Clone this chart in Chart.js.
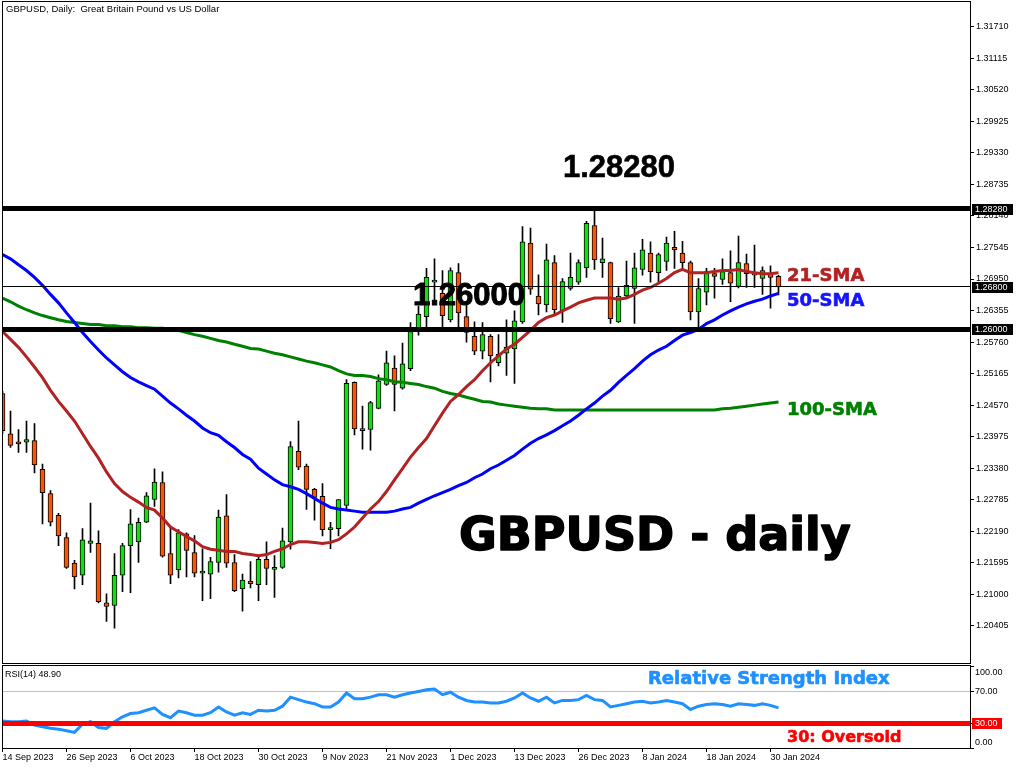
<!DOCTYPE html>
<html><head><meta charset="utf-8">
<script src="https://cdn.jsdelivr.net/npm/chart.js@4.4.0/dist/chart.umd.min.js"></script>
<style>
html,body{margin:0;padding:0;background:#fff;}
#wrap{position:relative;width:1024px;height:768px;overflow:hidden;background:#fff;}
#c1{position:absolute;left:0;top:0;}
#c2{position:absolute;left:0;top:664px;}
</style></head>
<body><div id="wrap"><canvas id="c1" width="1024" height="664"></canvas><canvas id="c2" width="1024" height="104"></canvas></div>
<script>
// ---------------- DATA ----------------
const opens  = [1.2479,1.2403,1.2385,1.2387,1.2390,1.2336,1.2290,1.2249,1.2207,1.2159,
1.2136,1.2196,1.2196,1.2084,1.2079,1.2136,1.2192,1.2199,1.2236,1.2279,
1.2311,1.2177,1.2146,1.2214,1.2179,1.2140,1.2138,1.2160,1.2248,1.2160,
1.2110,1.2125,1.2118,1.2166,1.2147,1.2151,1.2199,1.2370,1.2342,1.2298,
1.2285,1.2222,1.2224,1.2268,1.2500,1.2409,1.2411,1.2451,1.2496,1.2527,
1.2489,1.2526,1.2603,1.2624,1.2689,1.2668,1.2618,1.2707,1.2624,1.2587,
1.2559,1.2587,1.2537,1.2555,1.2563,1.2614,1.2763,1.2663,1.2646,1.2726,
1.2635,1.2677,1.2689,1.2716,1.2796,1.2726,1.2726,1.2614,1.2663,1.2677,
1.2713,1.2744,1.2707,1.2728,1.2755,1.2744,1.2726,1.2633,1.2670,1.2705,
1.2694,1.2707,1.2681,1.2724,1.2705,1.2696,1.2705,1.2700];
const highs  = [1.2483,1.2446,1.2411,1.2427,1.2422,1.2346,1.2296,1.2253,1.2216,1.2164,
1.2224,1.2272,1.2220,1.2101,1.2177,1.2196,1.2260,1.2244,1.2292,1.2337,
1.2331,1.2225,1.2222,1.2216,1.2211,1.2186,1.2170,1.2259,1.2288,1.2175,
1.2138,1.2162,1.2173,1.2199,1.2173,1.2225,1.2388,1.2427,1.2346,1.2300,
1.2309,1.2236,1.2279,1.2505,1.2501,1.2455,1.2464,1.2514,1.2559,1.2550,
1.2574,1.2613,1.2644,1.2715,1.2733,1.2711,1.2716,1.2724,1.2646,1.2614,
1.2613,1.2590,1.2590,1.2618,1.2635,1.2794,1.2791,1.2703,1.2761,1.2739,
1.2696,1.2744,1.2731,1.2804,1.2825,1.2772,1.2727,1.2679,1.2729,1.2744,
1.2770,1.2765,1.2744,1.2774,1.2785,1.2766,1.2729,1.2696,1.2715,1.2715,
1.2733,1.2748,1.2776,1.2742,1.2759,1.2718,1.2720,1.2702];
const lows   = [1.2403,1.2377,1.2368,1.2368,1.2329,1.2233,1.2229,1.2192,1.2149,1.2110,
1.2118,1.2179,1.2084,1.2049,1.2036,1.2105,1.2103,1.2160,1.2235,1.2266,
1.2170,1.2120,1.2131,1.2133,1.2133,1.2088,1.2092,1.2142,1.2151,1.2105,
1.2068,1.2112,1.2088,1.2118,1.2094,1.2149,1.2185,1.2335,1.2260,1.2240,
1.2210,1.2186,1.2210,1.2262,1.2401,1.2374,1.2372,1.2450,1.2494,1.2446,
1.2487,1.2522,1.2589,1.2605,1.2655,1.2603,1.2614,1.2603,1.2576,1.2552,
1.2544,1.2501,1.2531,1.2513,1.2498,1.2611,1.2666,1.2627,1.2633,1.2627,
1.2613,1.2674,1.2685,1.2698,1.2713,1.2698,1.2611,1.2613,1.2659,1.2611,
1.2702,1.2689,1.2689,1.2711,1.2715,1.2711,1.2618,1.2603,1.2646,1.2659,
1.2685,1.2652,1.2678,1.2679,1.2679,1.2666,1.2640,1.2665];
const closes = [1.2409,1.2381,1.2384,1.2392,1.2344,1.2292,1.2236,1.2210,1.2151,1.2133,
1.2203,1.2201,1.2086,1.2077,1.2136,1.2192,1.2233,1.2236,1.2286,1.2312,
1.2172,1.2136,1.2216,1.2183,1.2140,1.2141,1.2162,1.2246,1.2159,1.2107,
1.2127,1.2120,1.2166,1.2149,1.2151,1.2201,1.2379,1.2340,1.2298,1.2283,
1.2222,1.2222,1.2279,1.2498,1.2412,1.2412,1.2462,1.2503,1.2537,1.2496,
1.2535,1.2596,1.2629,1.2698,1.2692,1.2626,1.2711,1.2631,1.2594,1.2559,
1.2590,1.2550,1.2553,1.2566,1.2616,1.2765,1.2676,1.2648,1.2731,1.2637,
1.2690,1.2698,1.2726,1.2800,1.2731,1.2733,1.2620,1.2663,1.2683,1.2716,
1.2750,1.2709,1.2741,1.2763,1.2750,1.2726,1.2633,1.2677,1.2709,1.2700,
1.2709,1.2687,1.2726,1.2705,1.2702,1.2711,1.2698,1.2680];
const sma21  = [1.2596,1.2581,1.2566,1.2548,1.2529,1.2509,1.2485,1.2464,1.2446,1.2427,
1.2403,1.2379,1.2357,1.2331,1.2309,1.2294,1.2283,1.2274,1.2264,1.2259,
1.2244,1.2227,1.2218,1.2209,1.2201,1.2190,1.2185,1.2183,1.2181,1.2181,
1.2177,1.2175,1.2173,1.2175,1.2181,1.2186,1.2194,1.2199,1.2199,1.2198,
1.2196,1.2198,1.2203,1.2214,1.2227,1.2244,1.2261,1.2275,1.2294,1.2316,
1.2337,1.2359,1.2377,1.2394,1.2418,1.2442,1.2464,1.2477,1.2492,1.2505,
1.2522,1.2537,1.2550,1.2563,1.2572,1.2585,1.2598,1.2613,1.2622,1.2627,
1.2635,1.2642,1.2650,1.2655,1.2659,1.2659,1.2659,1.2657,1.2659,1.2666,
1.2674,1.2679,1.2687,1.2696,1.2707,1.2713,1.2707,1.2707,1.2707,1.2709,
1.2711,1.2711,1.2713,1.2709,1.2707,1.2705,1.2705,1.2707];
const sma50  = [1.2741,1.2733,1.2722,1.2711,1.2698,1.2683,1.2666,1.2650,1.2631,1.2613,
1.2594,1.2577,1.2561,1.2546,1.2533,1.2520,1.2509,1.2501,1.2494,1.2487,
1.2474,1.2461,1.2450,1.2438,1.2427,1.2414,1.2405,1.2400,1.2388,1.2377,
1.2364,1.2355,1.2338,1.2327,1.2316,1.2307,1.2303,1.2298,1.2290,1.2281,
1.2272,1.2264,1.2261,1.2259,1.2257,1.2255,1.2255,1.2255,1.2255,1.2257,
1.2261,1.2264,1.2272,1.2279,1.2286,1.2292,1.2298,1.2305,1.2311,1.2320,
1.2327,1.2337,1.2344,1.2353,1.2362,1.2374,1.2385,1.2394,1.2401,1.2409,
1.2418,1.2427,1.2438,1.2450,1.2461,1.2474,1.2485,1.2500,1.2513,1.2526,
1.2540,1.2552,1.2561,1.2568,1.2579,1.2589,1.2594,1.2600,1.2611,1.2618,
1.2627,1.2635,1.2642,1.2648,1.2653,1.2657,1.2663,1.2668];
const sma100 = [1.2659,1.2652,1.2644,1.2637,1.2631,1.2626,1.2622,1.2618,1.2615,1.2613,
1.2611,1.2609,1.2609,1.2607,1.2607,1.2605,1.2605,1.2603,1.2603,1.2602,
1.2602,1.2600,1.2598,1.2594,1.2590,1.2587,1.2583,1.2579,1.2576,1.2572,
1.2568,1.2564,1.2563,1.2559,1.2555,1.2552,1.2548,1.2544,1.2540,1.2537,
1.2533,1.2529,1.2522,1.2516,1.2513,1.2513,1.2511,1.2507,1.2505,1.2501,
1.2500,1.2498,1.2496,1.2492,1.2489,1.2483,1.2479,1.2476,1.2472,1.2468,
1.2464,1.2463,1.2459,1.2457,1.2455,1.2453,1.2451,1.2450,1.2450,1.2448,
1.2448,1.2448,1.2448,1.2448,1.2448,1.2448,1.2448,1.2448,1.2448,1.2448,
1.2448,1.2448,1.2448,1.2448,1.2448,1.2448,1.2448,1.2448,1.2448,1.2448,
1.2450,1.2451,1.2453,1.2455,1.2457,1.2459,1.2461,1.2463];
const rsi14  = [33,32,32,33,28,26,24,23,21,19,
29,32,25,24,32,38,42,43,46,49,
41,37,45,43,40,40,43,50,44,40,
43,41,46,45,46,51,62,59,56,54,
50,50,56,67,60,60,62,65,65,62,
65,67,69,71,72,65,68,62,58,56,
56,55,55,57,61,67,61,57,62,55,
58,58,59,64,59,58,50,52,54,56,
57,55,56,58,56,54,47,51,53,54,
53,51,54,53,52,54,52,48.9];
const priceTicks = [1.31710,1.31115,1.30520,1.29925,1.29330,1.28735,1.28140,1.27545,1.26950,1.26355,
1.25760,1.25165,1.24570,1.23975,1.23380,1.22785,1.22190,1.21595,1.21000,1.20405];
const levelPrices = [1.28280, 1.26800, 1.26000];
const rsiTicks = [100, 70, 30, 0];
const rsiLevels = [70, 30];
const dateTickIndex = [0,8,16,24,32,40,48,56,64,72,80,88,96];
const dateTickLabels = ['14 Sep 2023','26 Sep 2023','6 Oct 2023','18 Oct 2023','30 Oct 2023','9 Nov 2023',
'21 Nov 2023','1 Dec 2023','13 Dec 2023','26 Dec 2023','8 Jan 2024','18 Jan 2024','30 Jan 2024'];
const titleText = 'GBPUSD, Daily:  Great Britain Pound vs US Dollar';
const rsiTitle = 'RSI(14) 48.90';

// ---------------- STYLE ----------------
const BULL = '#10e010', BEAR = '#ff5500';
const LEVEL_WIDTHS = [5, 1, 5];
const FONT = '"Liberation Sans", Arial, sans-serif';
const HEAVY = '"DejaVu Sans", sans-serif';
Chart.defaults.font.family = FONT;
Chart.defaults.color = '#000';
const X_MIN = -0.0625, X_MAX = 120.9375;

const idx = opens.map((_, i) => i);
const bodyData = idx.map(i => ({x: i, y: [opens[i], closes[i]]}));
const wickData = idx.map(i => ({x: i, y: [lows[i], highs[i]]}));
const bodyColors = idx.map(i => closes[i] >= opens[i] ? BULL : BEAR);
const asXY = arr => arr.map((v, i) => ({x: i, y: v}));

function heavyText(ctx, txt, x, y, color, strokeW) {
  ctx.fillStyle = color;
  ctx.strokeStyle = color;
  ctx.lineWidth = strokeW;
  ctx.lineJoin = 'round';
  if (strokeW > 0) ctx.strokeText(txt, x, y);
  ctx.fillText(txt, x, y);
}

const mainPlugin = {
  id: 'mainDeco',
  afterDatasetsDraw(chart) {
    const {ctx, chartArea: a, scales: {y}} = chart;
    ctx.save();
    ctx.fillStyle = '#000';
    levelPrices.forEach((p, k) => {
      const w = LEVEL_WIDTHS[k];
      const py = Math.round(y.getPixelForValue(p) - w / 2);
      ctx.fillRect(a.left, py, a.right - a.left, w);
    });
    ctx.restore();
  },
  afterDraw(chart) {
    const {ctx, chartArea: a, scales: {y}} = chart;
    ctx.save();
    ctx.strokeStyle = '#000'; ctx.lineWidth = 1;
    ctx.strokeRect(2.5, 1.5, 968, 662);
    levelPrices.forEach(p => {
      const py = Math.round(y.getPixelForValue(p));
      ctx.fillStyle = '#000';
      ctx.fillRect(a.right + 2, py - 5, 41, 11);
      ctx.fillStyle = '#fff';
      ctx.font = '9px ' + FONT;
      ctx.textAlign = 'left'; ctx.textBaseline = 'middle';
      ctx.fillText(p.toFixed(5), a.right + 5, py + 0.5);
    });
    ctx.fillStyle = '#000';
    ctx.font = '9.5px ' + FONT;
    ctx.textAlign = 'left'; ctx.textBaseline = 'middle';
    ctx.fillText(titleText, 6, 9);
    ctx.textBaseline = 'alphabetic';
    ctx.font = 'bold 31px ' + FONT;
    heavyText(ctx, levelPrices[0].toFixed(5), 563, 177, '#000', 0.6);
    heavyText(ctx, levelPrices[2].toFixed(5), 413, 305, '#000', 1);
    ctx.font = 'bold 46px ' + HEAVY;
    heavyText(ctx, 'GBPUSD - daily', 459, 550, '#000', 1.5);
    ctx.font = 'bold 18px ' + HEAVY;
    heavyText(ctx, '21-SMA', 787, 281, '#b22222', 0.6);
    heavyText(ctx, '50-SMA', 787, 306, '#1414ff', 0.6);
    heavyText(ctx, '100-SMA', 787, 415, '#008000', 0.6);
    ctx.restore();
  }
};

new Chart(document.getElementById('c1'), {
  type: 'bar',
  data: {
    datasets: [
      {type: 'line', data: asXY(sma21), borderColor: '#b22222', borderWidth: 3, pointRadius: 0, order: 0},
      {type: 'line', data: asXY(sma50), borderColor: '#0000ff', borderWidth: 3, pointRadius: 0, order: 0},
      {type: 'line', data: asXY(sma100), borderColor: '#008000', borderWidth: 3, pointRadius: 0, order: 0},
      {type: 'bar', data: bodyData, backgroundColor: bodyColors, borderColor: '#000', borderWidth: 1,
       borderSkipped: false, barThickness: 5, grouped: false, minBarLength: 2, order: 1},
      {type: 'bar', data: wickData, backgroundColor: '#000', borderWidth: 0, barThickness: 1, grouped: false, order: 2}
    ]
  },
  options: {
    responsive: false, animation: false, devicePixelRatio: 1,
    layout: {padding: {left: 2, top: 2, right: 0, bottom: 1}},
    plugins: {legend: {display: false}, tooltip: {enabled: false}},
    scales: {
      x: {type: 'linear', display: false, min: X_MIN, max: X_MAX, offset: false},
      y: {type: 'linear', position: 'right', min: 1.19825, max: 1.32075, bounds: 'data',
          afterBuildTicks: s => { s.ticks = priceTicks.map(v => ({value: v})); },
          afterFit: s => { s.width = 54; },
          ticks: {autoSkip: false, padding: 2, font: {size: 9}, color: '#000', callback: v => v.toFixed(5)},
          grid: {drawOnChartArea: false, drawTicks: true, tickLength: 4, color: '#000'},
          border: {display: true, color: '#000'}}
    }
  },
  plugins: [mainPlugin]
});

const rsiPlugin = {
  id: 'rsiDeco',
  beforeDatasetsDraw(chart) {
    const {ctx, chartArea: a, scales: {y}} = chart;
    ctx.save();
    ctx.fillStyle = '#c0c0c0';
    ctx.fillRect(a.left, Math.round(y.getPixelForValue(rsiLevels[0])), a.right - a.left, 1);
    ctx.restore();
  },
  afterDatasetsDraw(chart) {
    const {ctx, chartArea: a, scales: {y}} = chart;
    ctx.save();
    ctx.fillStyle = '#ff0000';
    ctx.fillRect(a.left, Math.round(y.getPixelForValue(rsiLevels[1]) - 2.5), a.right - a.left, 5);
    ctx.restore();
  },
  afterDraw(chart) {
    const {ctx, chartArea: a, scales: {y}} = chart;
    ctx.save();
    ctx.strokeStyle = '#000'; ctx.lineWidth = 1;
    ctx.strokeRect(2.5, 1.5, 968, 83);
    ctx.font = '9px ' + FONT; ctx.textAlign = 'left'; ctx.textBaseline = 'middle';
    rsiTicks.forEach(v => {
      let py = y.getPixelForValue(v);
      ctx.fillStyle = '#000';
      ctx.fillRect(a.right, Math.round(py), 4, 1);
      if (v === 100) py += 6;
      if (v === 0) py -= 6;
      if (v === rsiLevels[1]) {
        ctx.fillStyle = '#ff0000';
        ctx.fillRect(a.right + 2, Math.round(py) - 5, 30, 11);
        ctx.fillStyle = '#fff';
      }
      ctx.fillText(v.toFixed(2), a.right + 5, py + 0.5);
    });
    ctx.fillStyle = '#000';
    ctx.fillText(rsiTitle, 5, 11);
    ctx.textBaseline = 'alphabetic';
    ctx.font = 'bold 18px ' + HEAVY;
    heavyText(ctx, 'Relative Strength Index', 648, 20, '#1e90ff', 0.6);
    ctx.font = 'bold 16px ' + HEAVY;
    heavyText(ctx, '30: Oversold', 787, 78, '#ff0000', 0.6);
    ctx.restore();
  }
};

new Chart(document.getElementById('c2'), {
  type: 'line',
  data: {datasets: [{data: asXY(rsi14), borderColor: '#1e90ff', borderWidth: 3, pointRadius: 0}]},
  options: {
    responsive: false, animation: false, devicePixelRatio: 1,
    layout: {padding: {left: 2, top: 2, right: 0, bottom: 0}},
    plugins: {legend: {display: false}, tooltip: {enabled: false}},
    scales: {
      x: {type: 'linear', position: 'bottom', min: X_MIN, max: X_MAX, offset: false, bounds: 'data',
          afterBuildTicks: s => { s.ticks = dateTickIndex.map(v => ({value: v})); },
          afterFit: s => { s.height = 20; },
          ticks: {autoSkip: false, maxRotation: 0, align: 'start', padding: 0, font: {size: 9}, color: '#000',
                  callback: (v, i) => dateTickLabels[i]},
          grid: {drawOnChartArea: false, drawTicks: true, tickLength: 4, color: '#000'},
          border: {display: true, color: '#000'}},
      y: {type: 'linear', position: 'right', min: 0, max: 100,
          afterFit: s => { s.width = 54; },
          ticks: {display: false}, grid: {display: false}, border: {display: false}}
    }
  },
  plugins: [rsiPlugin]
});
</script>
</body></html>
